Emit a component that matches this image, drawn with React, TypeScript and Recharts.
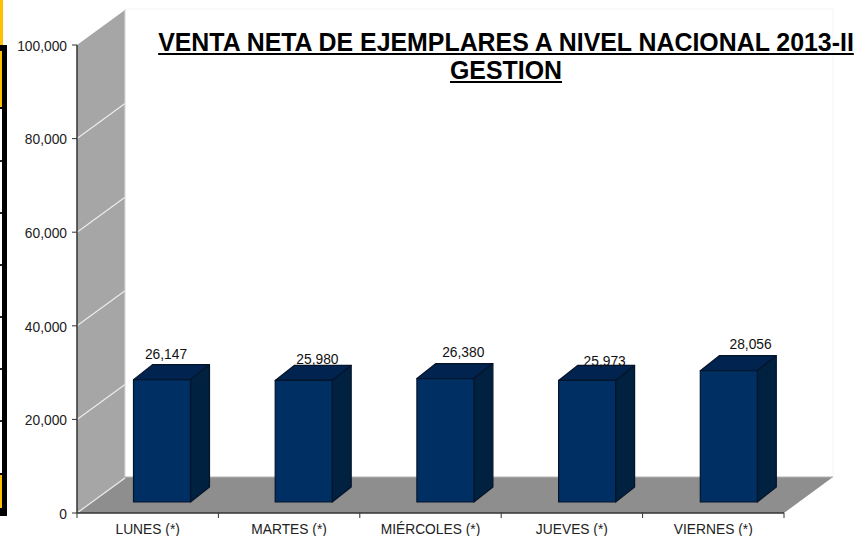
import { Bar, BarChart, LabelList, ReferenceArea, XAxis, YAxis } from "recharts";

const days = ["LUNES (*)", "MARTES (*)", "MIÉRCOLES (*)", "JUEVES (*)", "VIERNES (*)"];
const ventas = [26147, 25980, 26380, 25973, 28056];
const yTicks = [0, 20000, 40000, 60000, 80000, 100000];

const chartData = days.map((day, i) => ({ day, ventas: ventas[i] }));

// the labels sit by hand in the original, a bit off the bars
const labelNudge = [
    [18.5, -36],
    [28.5, -32],
    [33, -37],
    [33, -30],
    [37.5, -37],
];

const font = "'Liberation Sans', Arial, sans-serif";
const fmt = (v: number) => v.toLocaleString("en-US");

// 3d look: how far the back wall sits from the axes
const depthX = 48;
const depthY = 36;

function Room({ x, y, width, height }: any) {
    const bottom = y + height;
    const right = x + width;
    return (
        <g>
            <polyline
                points={`${x + depthX},${y - depthY} ${right + depthX + 1},${y - depthY} ${right + depthX + 1},${bottom - depthY}`}
                fill="none"
                stroke="#f4f4f4"
            />
            <polygon
                points={`${x},${y} ${x + depthX},${y - depthY + 1} ${x + depthX},${bottom - depthY} ${x},${bottom}`}
                fill="#a6a6a6"
            />
            <polygon
                points={`${x},${bottom} ${x + depthX},${bottom - depthY} ${right + depthX + 1},${bottom - depthY} ${right},${bottom}`}
                fill="#8e8e8e"
            />
            {yTicks.slice(0, -1).map((t) => {
                const ty = bottom - (t / 100000) * height;
                return (
                    <line
                        key={t}
                        x1={x}
                        y1={ty}
                        x2={x + depthX}
                        y2={ty - depthY + 1}
                        stroke="#ececec"
                        strokeWidth={1.2}
                    />
                );
            })}
            <line x1={x + depthX} y1={y - depthY} x2={x + depthX} y2={bottom - depthY} stroke="#d8d8d8" />
            <line x1={x + depthX} y1={bottom - depthY} x2={right + depthX + 1} y2={bottom - depthY} stroke="#b4b4b4" />
        </g>
    );
}

function Box3d({ x, y, width, height, index }: any) {
    const fx = x + 14.5 + index * 0.3;
    const fy = y - 11;
    const dx = 19;
    const dy = 15;
    const edge = "#06142a";
    return (
        <g stroke={edge} strokeWidth={1.2} strokeLinejoin="round">
            <polygon
                points={`${fx},${fy} ${fx + dx},${fy - dy} ${fx + width + dx},${fy - dy} ${fx + width},${fy}`}
                fill="#00234f"
            />
            <polygon
                points={`${fx + width},${fy} ${fx + width + dx},${fy - dy} ${fx + width + dx},${fy + height - dy} ${fx + width},${fy + height}`}
                fill="#002140"
            />
            <rect x={fx} y={fy} width={width} height={height} fill="#002f63" />
        </g>
    );
}

function DayTick({ x, y, payload, index }: any) {
    const half = payload.offset ?? 70.7;
    return (
        <g>
            <line x1={x - half} y1={y - 8} x2={x - half} y2={y - 3} stroke="#333" />
            {index === days.length - 1 && (
                <line x1={x + half} y1={y - 8} x2={x + half} y2={y - 3} stroke="#333" />
            )}
            <text x={x} y={y + 13} textAnchor="middle" fontSize={13.8} fontFamily={font} fill="#222">
                {payload.value}
            </text>
        </g>
    );
}

function ValueLabel({ x, y, width, value, index }: any) {
    const [dx, dy] = labelNudge[index];
    return (
        <text
            x={x + width / 2 + dx}
            y={y + dy}
            textAnchor="middle"
            dominantBaseline="central"
            fontSize={13.8}
            fontFamily={font}
            fill="#111"
        >
            {fmt(value)}
        </text>
    );
}

// slide furniture peeking in at the left edge of the screenshot
function SlideEdge() {
    const box = (left: number, top: number, width: number, height: number, background: string) => (
        <div key={`${left}-${top}`} style={{ position: "absolute", left, top, width, height, background }} />
    );
    const breaks = [160, 212, 264, 316, 368, 420];
    return (
        <>
            {box(0, 0, 3, 45, "#ffc000")}
            {box(0, 45, 7, 6, "#000")}
            {box(0, 51, 2, 56, "#ffc000")}
            {box(0, 107, 2, 2, "#000")}
            {box(2, 51, 5, 422, "#000")}
            {breaks.map((b) => box(0, b, 2, 2, "#222"))}
            {box(0, 473, 7, 2, "#000")}
            {box(0, 475, 2, 33, "#ffc000")}
            {box(2, 475, 5, 33, "#000")}
            {box(0, 508, 7, 8, "#000")}
        </>
    );
}

export default function App() {
    return (
        <div style={{ position: "fixed", left: 0, top: 0, width: 856, height: 536, background: "#fff", overflow: "hidden" }}>
            <BarChart
                width={856}
                height={536}
                data={chartData}
                margin={{ top: 45, right: 72, bottom: 0, left: 0 }}
                barCategoryGap={0}
                barSize={57}
            >
                <XAxis
                    dataKey="day"
                    height={23}
                    axisLine={{ stroke: "#333", strokeWidth: 1.5 }}
                    tickLine={false}
                    tick={<DayTick />}
                    interval={0}
                />
                <YAxis
                    width={77}
                    domain={[0, 100000]}
                    ticks={yTicks}
                    tickFormatter={fmt}
                    axisLine={{ stroke: "#333", strokeWidth: 1.5 }}
                    tickLine={{ stroke: "#333" }}
                    tickSize={5}
                    tickMargin={5}
                    tick={{ fontSize: 13.8, fontFamily: font, fill: "#222", dy: 1 }}
                />
                <ReferenceArea y1={0} y2={100000} shape={<Room />} ifOverflow="visible" />
                <Bar dataKey="ventas" isAnimationActive={false} shape={<Box3d />}>
                    <LabelList dataKey="ventas" content={<ValueLabel />} />
                </Bar>
            </BarChart>
            <SlideEdge />
            <div
                style={{
                    position: "absolute",
                    left: 156,
                    top: 28,
                    width: 700,
                    textAlign: "center",
                    fontFamily: font,
                    fontWeight: 700,
                    fontSize: 24.9,
                    lineHeight: "28px",
                    color: "#000",
                    textDecoration: "underline",
                    whiteSpace: "nowrap",
                }}
            >
                VENTA NETA DE EJEMPLARES A NIVEL NACIONAL 2013-II
                <br />
                GESTION
            </div>
        </div>
    );
}
